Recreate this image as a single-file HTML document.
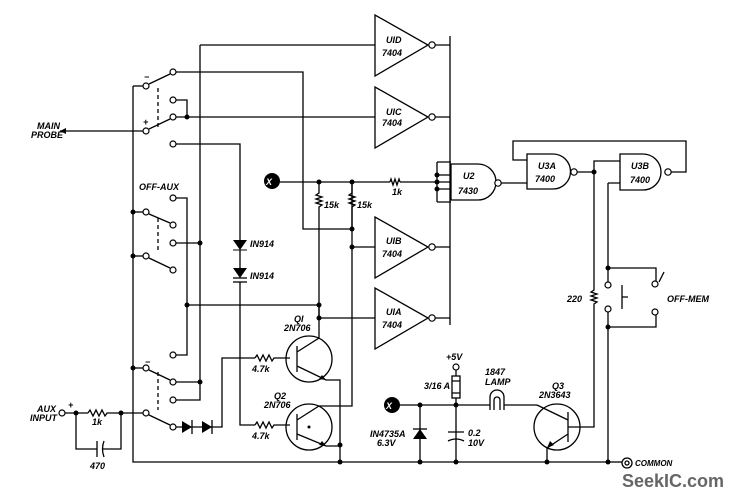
<!DOCTYPE html>
<html><head><meta charset="utf-8"><style>
html,body{margin:0;padding:0;background:#fff}
svg{display:block}
text{font-family:"Liberation Sans",sans-serif;font-style:italic;font-weight:bold;font-size:9px;fill:#000}
</style></head><body>
<svg width="741" height="489" viewBox="0 0 741 489" xmlns="http://www.w3.org/2000/svg">
<g stroke="#000" stroke-width="1.3" fill="none">
<path d="M133 86V462H612"/>
<path d="M133 86H143"/>
<path d="M149 84L170 74"/>
<path d="M176 72H303V229H352"/>
<path d="M176 100H187V117"/>
<path d="M176 117H375"/>
<path d="M60 131H143"/>
<path d="M149 129L170 119"/>
<path d="M176 144H240V240"/>
<path d="M158 88V128" stroke-dasharray="4 3"/>
<path d="M200 45H375"/>
<path d="M200 45V382"/>
<path d="M176 198H187V355H176"/>
<path d="M133 212H143"/>
<path d="M149 214L170 223"/>
<path d="M176 243H200"/>
<path d="M133 256H143"/>
<path d="M149 258L170 268"/>
<path d="M158 218V252" stroke-dasharray="4 3"/>
<path d="M187 305H319"/>
<path d="M133 368H143"/>
<path d="M149 370L170 380"/>
<path d="M176 382H200V400H176"/>
<path d="M121 413H143"/>
<path d="M149 415L170 425"/>
<path d="M158 372V410" stroke-dasharray="4 3"/>
<path d="M176 427H222V358H255"/>
<path d="M65 413H88"/>
<path d="M88 413l2-3 3 6 3-6 3 6 3-6 3 6 2-3H121"/>
<path d="M76 413V449H97M103 449H121V413"/>
<path d="M97 441V457"/>
<path d="M104 441q-3 8 0 16"/>
<path d="M240 250V268M240 282V425H255"/>
<path d="M255 358l2-3 3 6 3-6 3 6 3-6 3 6 2-3H290"/>
<path d="M255 425l2-3 3 6 3-6 3 6 3-6 3 6 2-3H290"/>
<circle cx="309" cy="359" r="23"/>
<circle cx="309" cy="427" r="23"/>
<path d="M297 346V372M297 352L319 338V305M297 366L326 380H340V462"/>
<path d="M297 414V440M297 420L319 406H352V182M297 434L326 446H340"/>
<path d="M280 182H390M400 182H437"/>
<path d="M390 182l1-3 2 6 2-6 2 6 2-6 1 3"/>
<path d="M319 182V193l-3 2 6 2-6 2 6 2-6 2 6 2-3 2V305V318H375"/>
<path d="M352 182V193l-3 2 6 2-6 2 6 2-6 2 6 2-3 2V229"/>
<path d="M352 247H375"/>
<path d="M375 15V76L428 45Z"/>
<path d="M375 87V148L428 117Z"/>
<path d="M375 217V278L428 247Z"/>
<path d="M375 288V349L428 318Z"/>
<path d="M435 45H450M435 117H450M435 247H450M435 318H450"/>
<path d="M450 36V325"/>
<path d="M437 162V202M437 162H451M437 175H451M437 182H451M437 189H451M437 202H451"/>
<path d="M451 164H478A18 18 0 0 1 478 200H451Z"/>
<path d="M501 183H527"/>
<path d="M527 154H553A17.5 17.5 0 0 1 553 189H527Z"/>
<path d="M527 160H513V141H686V172H671"/>
<path d="M577 172H594"/>
<path d="M620 154H643A18 18 0 0 1 643 190H620Z"/>
<path d="M594 172V161H620M608 183H620"/>
<path d="M594 172V290l-3 2 6 2-6 2 6 2-6 2 6 2-3 2V427H568"/>
<path d="M608 183V282M608 312V462"/>
<path d="M608 268H656V281M656 315V327H608"/>
<path d="M622 285V309M622 297H628"/>
<path d="M659 282L664 272"/>
<path d="M400 405H490M504 405H537"/>
<path d="M490 410V397A7 7 0 0 1 504 397V410"/>
<path d="M494 410V400A3 3 0 0 1 500 400V410"/>
<path d="M420 405V462M456 405V462M456 370V376M456 398V405"/>
<rect x="452" y="376" width="8" height="22"/>
<path d="M452 381H460M452 393H460"/>
<path d="M448 432H464M448 441q8-4 16 0"/>
<circle cx="557" cy="427" r="23"/>
<path d="M568 412V442M537 405L568 420M568 434L547 448V462"/>
<circle cx="627" cy="463" r="5"/>
<circle cx="627" cy="463" r="2"/>
<path d="M612 462H622"/>
</g>
<g fill="#000">
<path d="M60 131l6-3v6z"/>
<path d="M233 240h14l-7 10z"/><path d="M233 250h14" stroke="#000"/>
<path d="M233 268h14l-7 10z"/><path d="M233 282h14" stroke="#000" stroke-width="1.3"/>
<path d="M233 278h14" stroke="#000" stroke-width="1.3"/>
<path d="M182 421v12l10-6z"/><path d="M192 420v14" stroke="#000" stroke-width="1.3"/>
<path d="M202 421v12l10-6z"/><path d="M212 420v14" stroke="#000" stroke-width="1.3"/>
<path d="M413 439h14l-7-10z"/><path d="M413 429h14" stroke="#000" stroke-width="1.3"/>
<path d="M326 380l-7-1 3-4z"/><path d="M326 446l-7-1 3-4z"/><path d="M547 448l3-7 4 4z"/>
<circle cx="272" cy="181" r="8"/><circle cx="392" cy="405" r="8"/>
<circle cx="187" cy="117" r="2.5"/><circle cx="133" cy="212" r="2.5"/><circle cx="133" cy="256" r="2.5"/>
<circle cx="200" cy="243" r="2.5"/><circle cx="187" cy="305" r="2.5"/><circle cx="319" cy="305" r="2.5"/>
<circle cx="319" cy="318" r="2.5"/><circle cx="319" cy="182" r="2.5"/><circle cx="352" cy="182" r="2.5"/>
<circle cx="352" cy="229" r="2.5"/><circle cx="352" cy="247" r="2.5"/><circle cx="133" cy="368" r="2.5"/>
<circle cx="200" cy="382" r="2.5"/><circle cx="76" cy="413" r="2.5"/><circle cx="121" cy="413" r="2.5"/>
<circle cx="340" cy="445" r="2.5"/><circle cx="340" cy="462" r="2.5"/><circle cx="437" cy="175" r="2.5"/>
<circle cx="437" cy="182" r="2.5"/><circle cx="437" cy="189" r="2.5"/><circle cx="594" cy="172" r="2.5"/>
<circle cx="608" cy="268" r="2.5"/><circle cx="608" cy="327" r="2.5"/><circle cx="420" cy="405" r="2.5"/>
<circle cx="456" cy="405" r="2.5"/><circle cx="420" cy="462" r="2.5"/><circle cx="456" cy="462" r="2.5"/>
<circle cx="547" cy="462" r="2.5"/><circle cx="608" cy="462" r="2.5"/><circle cx="309" cy="427" r="1.5"/>
</g>
<g fill="#fff" stroke="#000" stroke-width="1.2">
<circle cx="146" cy="86" r="3"/><circle cx="173" cy="72" r="3"/><circle cx="173" cy="100" r="3"/>
<circle cx="173" cy="117" r="3"/><circle cx="146" cy="131" r="3"/><circle cx="173" cy="144" r="3"/>
<circle cx="173" cy="198" r="3"/><circle cx="146" cy="212" r="3"/><circle cx="173" cy="225" r="3"/>
<circle cx="173" cy="243" r="3"/><circle cx="146" cy="256" r="3"/><circle cx="173" cy="270" r="3"/>
<circle cx="173" cy="355" r="3"/><circle cx="146" cy="368" r="3"/><circle cx="173" cy="382" r="3"/>
<circle cx="173" cy="400" r="3"/><circle cx="146" cy="413" r="3"/><circle cx="173" cy="427" r="3"/>
<circle cx="62" cy="413" r="3"/><circle cx="456" cy="367" r="3"/>
<circle cx="432" cy="45" r="3.2"/><circle cx="432" cy="117" r="3.2"/><circle cx="432" cy="247" r="3.2"/>
<circle cx="432" cy="318" r="3.2"/><circle cx="498" cy="183" r="3.2"/><circle cx="574" cy="172" r="3.2"/>
<circle cx="668" cy="172" r="3.2"/>
<circle cx="608" cy="285" r="3"/><circle cx="608" cy="309" r="3"/>
<circle cx="655" cy="284" r="3"/><circle cx="655" cy="312" r="3"/>
</g>
<text x="266" y="185" style="fill:#fff">X</text>
<text x="386" y="409" style="fill:#fff">X</text>
<text x="386" y="43">UID</text><text x="382" y="56">7404</text>
<text x="386" y="115">UIC</text><text x="382" y="126">7404</text>
<text x="386" y="244">UIB</text><text x="382" y="257">7404</text>
<text x="386" y="315">UIA</text><text x="382" y="328">7404</text>
<text x="463" y="179">U2</text><text x="458" y="194">7430</text>
<text x="538" y="169">U3A</text><text x="535" y="182">7400</text>
<text x="631" y="169">U3B</text><text x="630" y="183">7400</text>
<text x="37" y="129">MAIN</text><text x="31" y="138">PROBE</text>
<text x="144" y="80">−</text><text x="143" y="125">+</text>
<text x="139" y="190">OFF-AUX</text>
<text x="145" y="365">−</text>
<text x="37" y="412">AUX</text><text x="30" y="421">INPUT</text><text x="68" y="408">+</text>
<text x="92" y="425">1k</text><text x="90" y="469">470</text>
<text x="250" y="247">IN914</text><text x="250" y="279">IN914</text>
<text x="324" y="208">15k</text><text x="357" y="208">15k</text>
<text x="392" y="195">1k</text>
<text x="294" y="322">QI</text><text x="284" y="331">2N706</text>
<text x="274" y="399">Q2</text><text x="264" y="408">2N706</text>
<text x="252" y="372">4.7k</text><text x="252" y="439">4.7k</text>
<text x="446" y="360">+5V</text><text x="424" y="389">3/16 A</text>
<text x="485" y="375">1847</text><text x="485" y="385">LAMP</text>
<text x="552" y="389">Q3</text><text x="539" y="398">2N3643</text>
<text x="370" y="437">IN4735A</text><text x="377" y="446">6.3V</text>
<text x="468" y="436">0.2</text><text x="468" y="446">10V</text>
<text x="567" y="302">220</text>
<text x="667" y="302">OFF-MEM</text>
<text x="635" y="466" style="font-size:8px">COMMON</text>
<text x="622" y="487" style="font-size:18px;font-style:normal;fill:#666">SeekIC.com</text>
</svg>
</body></html>
